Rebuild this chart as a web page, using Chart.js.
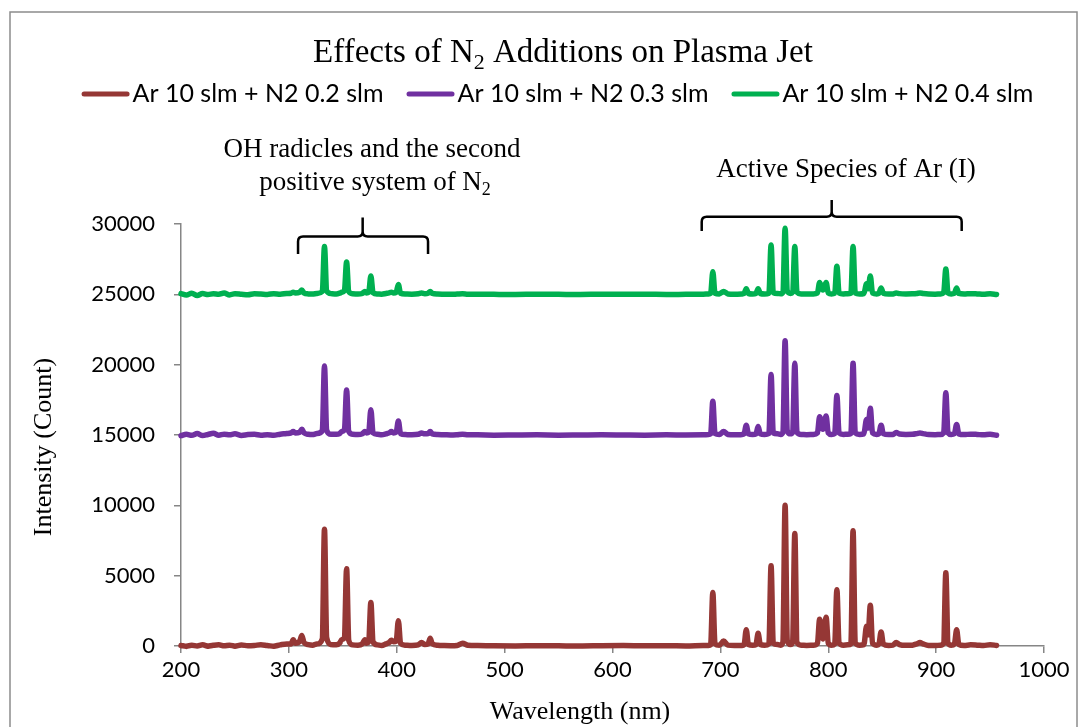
<!DOCTYPE html>
<html>
<head>
<meta charset="utf-8">
<title>Effects of N2 Additions on Plasma Jet</title>
<script src="https://cdn.jsdelivr.net/npm/chart.js@4.4.1/dist/chart.umd.min.js"></script>
<style>
  html, body { margin: 0; padding: 0; background: #ffffff; }
  #wrap { width: 1081px; height: 727px; position: relative; }
  canvas { display: block; }
</style>
</head>
<body>
<div id="wrap"><canvas id="spectrum" width="1081" height="727"></canvas></div>
<script>
// Wavelength grid (nm) shared by the three spectra
const wavelength = [
  200, 205, 210, 215, 220, 225, 230, 235, 240, 245, 250, 256, 262, 268, 274, 280, 286, 292, 298,
  302, 304, 306, 310, 312, 314, 318, 322, 326, 331,
  333, 335, 339, 344, 347, 349, 351.5, 353.5, 355.5, 359,
  364, 368, 370.5, 372, 374, 376, 378, 382, 386, 390,
  393, 395, 397, 399.5, 401.5, 403.5, 408, 414, 420, 423,
  426, 429, 431, 433, 438, 444, 450, 456, 461, 466,
  475, 490, 510, 530, 550, 570, 590, 610, 630, 650, 668, 684,
  689, 691, 693, 695, 699,
  703, 707, 713, 720, 722,
  724, 726, 730, 733, 735,
  737, 741, 745, 747, 749,
  753, 756, 758, 760, 762,
  765, 767, 769, 771, 775,
  780, 786, 790, 792, 795,
  798, 800, 803, 806, 808,
  810, 814, 818, 821, 823,
  825, 829, 833, 835.5, 837,
  839, 841, 845, 847, 849,
  851, 856, 860, 863, 866,
  872, 878, 882, 885, 888,
  893, 899, 904, 907, 909,
  911, 914, 917, 919, 921,
  926, 932, 938, 944, 950,
  956
];

// Intensity (counts), Ar 10 slm + N2 0.2 slm
const n2Flow02 = [
  40, -30, 60, 0, 80, -20, 50, 90, 10, 60, -10, 70, 20, 40, 90, 30, -20, 80, 150,
  150, 450, 200, 350, 750, 250, 100, 60, 150, 500,
  8300, 600, 100, 80, 200, 450, 600, 5500, 400, 80,
  60, 150, 450, 200, 300, 3100, 300, 80, 40, 150,
  250, 400, 300, 350, 1800, 200, 60, 40, 80, 250,
  100, 150, 550, 150, 50, 30, 20, 40, 200, 50,
  30, 10, 0, 20, 10, 0, 20, 30, 10, 20, 0, 30,
  40, 100, 3800, 150, 50,
  350, 60, 30, 40, 100,
  1150, 100, 50, 100, 900,
  100, 50, 150, 5700, 200,
  100, 60, 300, 10000, 400,
  100, 300, 8000, 250, 60,
  40, 50, 200, 1900, 500,
  2050, 200, 60, 150, 4000,
  200, 60, 80, 150, 8200,
  200, 60, 100, 1400, 800,
  2900, 200, 60, 150, 1000,
  150, 40, 60, 250, 100,
  50, 60, 150, 250, 150,
  40, 30, 60, 200, 5200,
  200, 60, 150, 1150, 120,
  40, 80, 60, 30, 90,
  40
];

// Intensity (counts), Ar 10 slm + N2 0.3 slm
const n2Flow03 = [
  14950, 15050, 14980, 15100, 14960, 15040, 15120, 14990, 15060, 15010, 15080, 14970, 15030, 15050, 14990, 15020, 14980, 15060, 15100,
  15150, 15250, 15150, 15200, 15400, 15150, 15050, 15030, 15100, 15300,
  19900, 15350, 15050, 15050, 15100, 15250, 15350, 18200, 15250, 15050,
  15030, 15080, 15250, 15150, 15200, 16800, 15150, 15050, 15020, 15080,
  15150, 15250, 15150, 15200, 16000, 15100, 15030, 15020, 15050, 15150,
  15080, 15100, 15250, 15080, 15030, 15020, 15000, 15020, 15050, 15010,
  15010, 14990, 15000, 15010, 14990, 15000, 15010, 15000, 14990, 15010, 15000, 15010,
  15030, 15080, 17400, 15100, 15030,
  15250, 15040, 15010, 15030, 15080,
  15700, 15080, 15030, 15080, 15600,
  15080, 15030, 15100, 19300, 15150,
  15080, 15040, 15200, 21700, 15300,
  15080, 15200, 20100, 15200, 15040,
  15020, 15040, 15150, 16300, 15400,
  16350, 15150, 15040, 15100, 17800,
  15150, 15040, 15060, 15100, 20100,
  15150, 15040, 15080, 16100, 15500,
  16900, 15150, 15040, 15100, 15700,
  15100, 15030, 15040, 15180, 15070,
  15040, 15050, 15100, 15150, 15100,
  15030, 15020, 15040, 15150, 18000,
  15150, 15040, 15100, 15750, 15080,
  15030, 15060, 15040, 15010, 15050,
  14980
];

// Intensity (counts), Ar 10 slm + N2 0.4 slm
const n2Flow04 = [
  25050, 24950, 25080, 24920, 25060, 24980, 25040, 25000, 25090, 24960, 25050, 25010, 24970, 25040, 25020, 24990, 25050, 25010, 25060,
  25080, 25150, 25100, 25150, 25300, 25100, 25030, 25020, 25060, 25200,
  28400, 25250, 25050, 25030, 25080, 25150, 25250, 27300, 25200, 25040,
  25020, 25060, 25200, 25100, 25150, 26300, 25120, 25030, 25010, 25060,
  25100, 25150, 25100, 25150, 25700, 25080, 25020, 25010, 25040, 25100,
  25050, 25080, 25200, 25060, 25020, 25010, 25000, 25020, 25040, 25010,
  25010, 25000, 24990, 25010, 25000, 24990, 25010, 25000, 25010, 24990, 25000, 25010,
  25030, 25080, 26600, 25080, 25030,
  25200, 25030, 25010, 25030, 25060,
  25400, 25060, 25030, 25060, 25400,
  25060, 25030, 25080, 28500, 25120,
  25060, 25040, 25150, 29700, 25250,
  25060, 25150, 28400, 25150, 25030,
  25020, 25030, 25100, 25850, 25300,
  25850, 25100, 25030, 25080, 27000,
  25100, 25030, 25050, 25080, 28400,
  25100, 25030, 25060, 25750, 25400,
  26300, 25100, 25030, 25080, 25450,
  25080, 25020, 25030, 25100, 25050,
  25030, 25040, 25060, 25100, 25060,
  25020, 25010, 25030, 25120, 26800,
  25100, 25030, 25080, 25450, 25060,
  25020, 25050, 25030, 25000, 25040,
  24990
];

const seriesLabels = ['Ar 10 slm + N2 0.2 slm', 'Ar 10 slm + N2 0.3 slm', 'Ar 10 slm + N2 0.4 slm'];
const seriesColors = ['#953735', '#7030A0', '#00B050'];
const xTickValues = [200, 300, 400, 500, 600, 700, 800, 900, 1000];
const yTickValues = [0, 5000, 10000, 15000, 20000, 25000, 30000];

const SERIF = '"Liberation Serif", "Times New Roman", serif';
const SANS = 'Lato, "Open Sans", Arial, sans-serif';
const AXIS_GREY = '#868686';

// Region brackets, in wavelength (nm) and intensity units
const brackets = [
  { from: 308.5, to: 429, mid: 368.4, bar: 29110, ends: 27870, tip: 30470 },
  { from: 682.7, to: 923.7, mid: 803.2, bar: 30520, ends: 29500, tip: 31710 }
];

function toPoints(values) {
  return wavelength.map((w, i) => ({ x: w, y: values[i] }));
}

// Text with subscript runs: parts = [[text, isSubscript], ...]
function drawRichText(ctx, parts, cx, baseline, size, family) {
  const subSize = Math.round(size * 0.66);
  const widths = parts.map(([t, sub]) => {
    ctx.font = `${sub ? subSize : size}px ${family}`;
    return ctx.measureText(t).width;
  });
  const total = widths.reduce((a, b) => a + b, 0);
  let x = cx - total / 2;
  ctx.textAlign = 'left';
  ctx.textBaseline = 'alphabetic';
  parts.forEach(([t, sub], i) => {
    ctx.font = `${sub ? subSize : size}px ${family}`;
    ctx.fillText(t, x, baseline + (sub ? size * 0.2 : 0));
    x += widths[i];
  });
}

function drawBracket(ctx, xs, ys, b) {
  const x0 = xs.getPixelForValue(b.from);
  const x1 = xs.getPixelForValue(b.to);
  const xc = xs.getPixelForValue(b.mid);
  const yBar = ys.getPixelForValue(b.bar);
  const yEnd = ys.getPixelForValue(b.ends);
  const yTip = ys.getPixelForValue(b.tip);
  const r = 5;
  ctx.beginPath();
  ctx.moveTo(x0, yEnd);
  ctx.lineTo(x0, yBar + r);
  ctx.quadraticCurveTo(x0, yBar, x0 + r, yBar);
  ctx.lineTo(xc - r, yBar);
  ctx.quadraticCurveTo(xc, yBar, xc, yBar - r);
  ctx.lineTo(xc, yTip);
  ctx.moveTo(xc, yBar - r);
  ctx.quadraticCurveTo(xc, yBar, xc + r, yBar);
  ctx.lineTo(x1 - r, yBar);
  ctx.quadraticCurveTo(x1, yBar, x1, yBar + r);
  ctx.lineTo(x1, yEnd);
  ctx.stroke();
}

const chartDecor = {
  id: 'chartDecor',
  beforeDraw(chart) {
    const ctx = chart.ctx;
    ctx.save();
    ctx.fillStyle = '#ffffff';
    ctx.fillRect(0, 0, chart.width, chart.height);
    ctx.strokeStyle = '#8c8c8c';
    ctx.lineWidth = 1.5;
    ctx.strokeRect(10, 12, 1067, 730);
    ctx.restore();
  },
  afterDraw(chart) {
    const ctx = chart.ctx;
    const xs = chart.scales.x;
    const ys = chart.scales.y;
    ctx.save();
    ctx.fillStyle = '#000000';

    // Title
    drawRichText(ctx, [['Effects of N', false], ['2', true], [' Additions on Plasma Jet', false]], 563, 62, 33, SERIF);

    // Legend
    ctx.font = `25px ${SANS}`;
    const lineLen = 48, gap = 3, spacing = 23;
    const widths = seriesLabels.map(l => ctx.measureText(l).width);
    const total = widths.reduce((a, w) => a + lineLen + gap + w, 0) + spacing * (seriesLabels.length - 1);
    let lx = 557.5 - total / 2;
    const ly = 94;
    seriesLabels.forEach((label, i) => {
      ctx.strokeStyle = seriesColors[i];
      ctx.lineWidth = 5;
      ctx.lineCap = 'round';
      ctx.beginPath();
      ctx.moveTo(lx + 2.5, ly);
      ctx.lineTo(lx + lineLen - 2.5, ly);
      ctx.stroke();
      ctx.fillStyle = '#000000';
      ctx.font = `25px ${SANS}`;
      ctx.textAlign = 'left';
      ctx.textBaseline = 'middle';
      ctx.fillText(label, lx + lineLen + gap, ly);
      lx += lineLen + gap + widths[i] + spacing;
    });

    // Region labels
    ctx.fillStyle = '#000000';
    drawRichText(ctx, [['OH radicles and the second', false]], 372, 157, 27, SERIF);
    drawRichText(ctx, [['positive system of N', false], ['2', true]], 375, 190, 27, SERIF);
    drawRichText(ctx, [['Active Species of Ar (I)', false]], 846, 177, 27, SERIF);

    // Region brackets
    ctx.strokeStyle = '#000000';
    ctx.lineWidth = 2.5;
    ctx.lineCap = 'butt';
    ctx.lineJoin = 'round';
    brackets.forEach(b => drawBracket(ctx, xs, ys, b));

    // Axis titles
    ctx.fillStyle = '#000000';
    drawRichText(ctx, [['Wavelength (nm)', false]], 580, 719, 26, SERIF);
    ctx.save();
    ctx.translate(51, 447);
    ctx.rotate(-Math.PI / 2);
    drawRichText(ctx, [['Intensity (Count)', false]], 0, 0, 26, SERIF);
    ctx.restore();

    ctx.restore();
  }
};

const datasets = [n2Flow02, n2Flow03, n2Flow04].map((values, i) => ({
  label: seriesLabels[i],
  data: toPoints(values),
  borderColor: seriesColors[i],
  backgroundColor: seriesColors[i],
  borderWidth: 5.5,
  pointRadius: 0,
  pointHoverRadius: 0,
  fill: false,
  cubicInterpolationMode: 'monotone',
  borderCapStyle: 'round',
  borderJoinStyle: 'round',
  clip: false
}));

new Chart(document.getElementById('spectrum'), {
  type: 'line',
  data: { datasets },
  options: {
    responsive: false,
    devicePixelRatio: 1,
    animation: false,
    events: [],
    layout: { padding: { top: 224, right: 37, left: 0, bottom: 0 } },
    plugins: {
      legend: { display: false },
      title: { display: false },
      tooltip: { enabled: false }
    },
    scales: {
      x: {
        type: 'linear',
        min: 200,
        max: 1000,
        afterBuildTicks: axis => { axis.ticks = xTickValues.map(v => ({ value: v })); },
        afterFit: scale => { scale.height = 81; },
        ticks: {
          callback: v => String(v),
          color: '#000000',
          font: { family: SANS, size: 22 },
          padding: 4,
          maxRotation: 0,
          autoSkip: false
        },
        grid: { drawOnChartArea: false, drawTicks: true, tickLength: 7, color: AXIS_GREY, lineWidth: 1.5 },
        border: { display: true, color: AXIS_GREY, width: 1.5 }
      },
      y: {
        type: 'linear',
        min: 0,
        max: 30000,
        afterBuildTicks: axis => { axis.ticks = yTickValues.map(v => ({ value: v })); },
        afterFit: scale => { scale.width = 181; },
        ticks: {
          callback: v => String(v),
          color: '#000000',
          font: { family: SANS, size: 22 },
          padding: 19
        },
        grid: { drawOnChartArea: false, drawTicks: true, tickLength: 7, color: AXIS_GREY, lineWidth: 1.5 },
        border: { display: true, color: AXIS_GREY, width: 1.5 }
      }
    }
  },
  plugins: [chartDecor]
});
</script>
</body>
</html>
